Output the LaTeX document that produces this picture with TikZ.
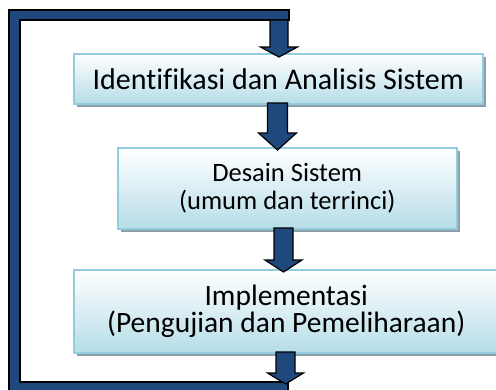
\documentclass[tikz,border=0pt]{standalone}
\usepackage{fontspec}
\setmainfont[Ligatures=NoCommon]{Carlito}
\usetikzlibrary{shadows}
\definecolor{arrowblue}{HTML}{1F497D}
\definecolor{boxedge}{HTML}{93CDDD}
\definecolor{boxbot}{HTML}{B6DDE8}
\definecolor{shadowgray}{HTML}{8C9FA8}
\tikzset{
  stagebox/.style={draw=boxedge, line width=1.5pt, top color=white, bottom color=boxbot,
    shading angle=0, align=center, inner sep=0pt, anchor=north west,
    drop shadow={shadow xshift=3pt, shadow yshift=-3pt, fill=shadowgray, opacity=1}},
  blockarrow/.style={fill=arrowblue, draw=black, line width=1.2pt, line join=miter},
}
\newcommand{\barrow}[6]{% xc, ytop, yhead, ytip, shaft hw, head hw
  \path[blockarrow] (#1-#5,#2) -- (#1+#5,#2) -- (#1+#5,#3) -- (#1+#6,#3) -- (#1,#4)
    -- (#1-#6,#3) -- (#1-#5,#3) -- cycle;}
\begin{document}
\begin{tikzpicture}[x=1pt,y=-1pt]
\useasboundingbox (0,0) rectangle (496,389);
% boxes
\node[stagebox, minimum width=409pt, minimum height=50pt, font=\fontsize{30}{34}\selectfont] (b1) at (73,53) {Identifikasi dan Analisis Sistem};
\node[stagebox, minimum width=339pt, minimum height=81pt, font=\fontsize{26.5}{28}\selectfont] (b2) at (117,147) {Desain Sistem\\(umum dan terrinci)};
\node[stagebox, minimum width=425pt, minimum height=83pt, font=\fontsize{29.5}{27}\selectfont] (b3) at (73,269) {Implementasi\\(Pengujian dan Pemeliharaan)};
% frame (feedback loop)
\path[blockarrow] (289,10) -- (9,10) -- (9,395) -- (288,395) -- (288,382) -- (20,382) -- (20,20) -- (289,20) -- cycle;
% arrows
\barrow{279}{20}{47}{57}{9}{18.5}
\barrow{277.5}{103}{133}{150}{10}{19}
\barrow{283.5}{228}{260}{272}{9.5}{18.5}
\barrow{285.5}{352}{373}{384}{9.5}{18}
\end{tikzpicture}
\end{document}
